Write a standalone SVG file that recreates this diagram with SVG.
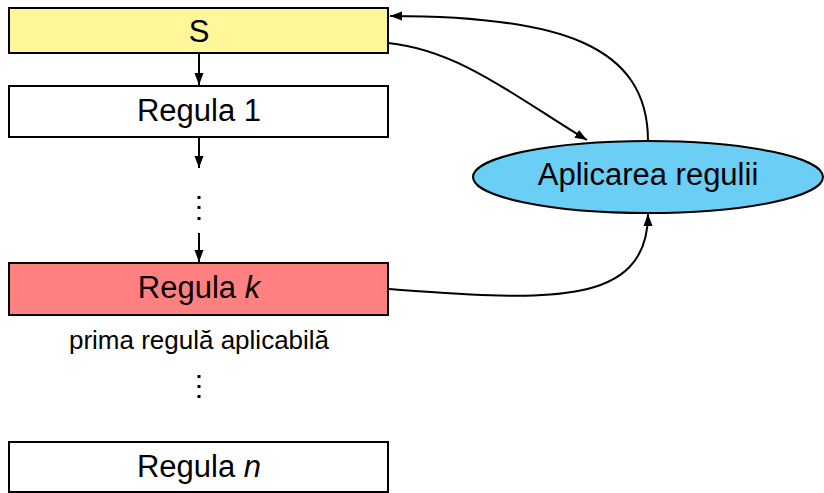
<svg xmlns="http://www.w3.org/2000/svg" width="824" height="493" viewBox="0 0 824 493">
<style>
.box{stroke:#000;stroke-width:2}
.t{font-family:"Liberation Sans",Arial,sans-serif;font-size:31px;fill:#000;text-anchor:middle}
.s{font-family:"Liberation Sans",Arial,sans-serif;font-size:26px;fill:#000;text-anchor:middle}
.c{fill:none;stroke:#000;stroke-width:2}
.dot{fill:#000}
</style>
<defs>
<marker id="ah" viewBox="0 0 12 10" refX="12" refY="5" markerWidth="12" markerHeight="10" markerUnits="userSpaceOnUse" orient="auto">
<path d="M0,0.5 L12,5 L0,9.5 Z" fill="#000"/>
</marker>
</defs>
<g id="S">
<rect class="box" x="9" y="8" width="379" height="45" fill="#FFF799"/>
<text class="t" x="199" y="42">S</text>
</g>
<g id="regula1">
<rect class="box" x="9" y="86" width="379" height="51" fill="#FFFFFF"/>
<text class="t" x="199" y="121">Regula 1</text>
</g>
<g id="dots1">
<rect class="dot" x="197.5" y="196" width="3" height="3"/>
<rect class="dot" x="197.5" y="206" width="3" height="3"/>
<rect class="dot" x="197.5" y="217" width="3" height="3"/>
</g>
<g id="regulak">
<rect class="box" x="9" y="263" width="379" height="52" fill="#FF8080"/>
<text class="t" x="199" y="298">Regula <tspan font-style="italic">k</tspan></text>
</g>
<g id="label">
<text class="s" x="199" y="349">prima regulă aplicabilă</text>
</g>
<g id="dots2">
<rect class="dot" x="197.5" y="375" width="3" height="3"/>
<rect class="dot" x="197.5" y="385" width="3" height="3"/>
<rect class="dot" x="197.5" y="395" width="3" height="3"/>
</g>
<g id="regulan">
<rect class="box" x="9" y="442" width="379" height="50" fill="#FFFFFF"/>
<text class="t" x="199" y="477">Regula <tspan font-style="italic">n</tspan></text>
</g>
<g id="aplicarea">
<ellipse class="box" cx="648" cy="177" rx="175" ry="36" fill="#6ACEF5"/>
<text class="t" x="648" y="185">Aplicarea regulii</text>
</g>
<g id="connectors">
<path class="c" d="M199,53 L199,85" marker-end="url(#ah)"/>
<path class="c" d="M199,137 L199,168" marker-end="url(#ah)"/>
<path class="c" d="M199,233 L199,262" marker-end="url(#ah)"/>
<path class="c" d="M388,43 C460,50 520,100 587,140" marker-end="url(#ah)"/>
<path class="c" d="M648,141 C648,45 560,16 390,16" marker-end="url(#ah)"/>
<path class="c" d="M388,289 C540,300 648,310 648,214" marker-end="url(#ah)"/>
</g>
</svg>
